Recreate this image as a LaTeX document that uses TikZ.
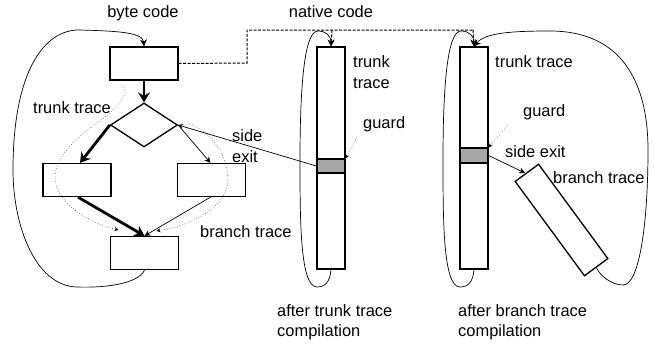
\documentclass[tikz,border=0pt]{standalone}
\usepackage{fontspec}
\setmainfont{Liberation Sans}
\usetikzlibrary{shapes.geometric,arrows.meta}
\begin{document}
\begin{tikzpicture}[x=1bp,y=-1bp,
  every node/.style={font=\fontsize{16.5}{20.5}\selectfont},
  blk/.style={draw,line width=1.3bp,minimum width=68bp,minimum height=33bp,inner sep=0pt},
  bar/.style={draw,line width=1.3bp,minimum width=28bp,minimum height=222bp,inner sep=0pt},
  grd/.style={draw,line width=1.3bp,fill=gray!85!black!60,minimum width=28bp,inner sep=0pt},
  lbl/.style={anchor=west,inner sep=0pt,align=left},
  thick arr/.style={line width=2.8bp,-{Stealth[length=10bp,width=12bp,inset=3.5bp]}},
  thin arr/.style={line width=0.7bp,-{Stealth[length=6bp,width=6bp,inset=2bp]}},
  loop/.style={line width=0.7bp,-{Stealth[length=7bp,width=7bp,inset=2.5bp]}},
  dots/.style={line width=0.6bp,dotted,gray!60!black,-{Stealth[length=4bp,width=4bp,black]}},
  dsh/.style={line width=1bp,dash pattern=on 3bp off 1.5bp}
]
\useasboundingbox (0,0) rectangle (654,347);
% left: byte code
\node (bc) at (143,13) {byte code};
\node[blk] (T) at (144,63.5) {};
\node[draw,diamond,line width=1.3bp,minimum width=67bp,minimum height=44bp,inner sep=0pt] (D) at (144,125) {};
\node[blk] (L) at (77,180) {};
\node[blk] (R) at (211.5,180) {};
\node[blk] (B) at (144.5,253) {};
\draw[thick arr] (T.south) -- (D.north);
\draw[thick arr] (D.west) -- ([xshift=3bp]L.north);
\draw[thin arr] (D.east) -- ([xshift=-1bp]R.north);
\draw[thick arr] ([xshift=1bp]L.south) -- (B.north);
\draw[thin arr] ([xshift=-1bp]R.south) -- (B.north);
\draw[loop] (B.south) .. controls (138,284) and (105,288) .. (77,287)
  .. controls (35,286) and (13,225) .. (13,170)
  .. controls (13,70) and (45,29) .. (80,30)
  .. controls (115,31) and (143,32) .. (T.north);
\coordinate (tt0) at (122,86);
\draw[dots] (tt0) .. controls (130,90) and (122,103) .. (105,117)
  .. controls (80,135) and (55,155) .. (55,177)
  .. controls (55,205) and (95,225) .. ([xshift=-26bp,yshift=6bp]B.north);
\coordinate (bt0) at (187,123);
\draw[dots] (bt0) .. controls (205,128) and (228,150) .. (228,180)
  .. controls (228,205) and (195,225) .. ([xshift=12bp,yshift=5bp]B.north);
\node[lbl] (ltt) at (33,108) {trunk trace};
\node[lbl] (lse) at (232,146) {side\\exit};
\node[lbl] (lbt) at (200,232) {branch trace};
% middle: after trunk trace compilation
\node (nc) at (331,12) {native code};
\node[bar] (M) at (331,158) {};
\node[grd,minimum height=14bp] (G1) at (331,166) {};
\node[lbl] (ltt2) at (353,72) {trunk\\trace};
\node[lbl] (lg1) at (363,124) {guard};
\node[lbl] (lat) at (277,322.5) {after trunk trace\\compilation};
\coordinate (g1p) at (357,137);
\draw[dots] (g1p) -- (G1.north east);
\draw[line width=0.7bp,-{Stealth[length=5bp,width=5bp,inset=2bp]}] (G1.west) -- (D.east);
\draw[loop] (M.south) .. controls (330,282) and (325,287) .. (317,287)
  .. controls (300,287) and (300,220) .. (300,160)
  .. controls (300,80) and (305,31) .. (318,31)
  .. controls (326,31) and (331,36) .. (M.north);
% right: after branch trace compilation
\node[bar] (N) at (474,158) {};
\node[grd,minimum height=15bp] (G2) at (474,155.5) {};
\node[lbl] (ltt3) at (495,62) {trunk trace};
\node[lbl] (lg2) at (523,112) {guard};
\node[lbl] (lse2) at (505,152) {side exit};
\node[draw,line width=1.3bp,minimum width=117bp,minimum height=29bp,inner sep=0pt,rotate=-53.7] (BR) at (561.5,220) {};
\node[lbl] (lbt2) at (553,178) {branch trace};
\node[lbl] (lab) at (458,322.5) {after branch trace\\compilation};
\coordinate (g2p) at (508,125);
\draw[dots] (g2p) -- (G2.north east);
\draw[thin arr] (G2.east) -- (525,173);
\draw[loop] (N.south) .. controls (473,282) and (468,287) .. (460,287)
  .. controls (443,287) and (443,220) .. (443,160)
  .. controls (443,80) and (448,31) .. (461,31)
  .. controls (469,31) and (474,36) .. (N.north);
\draw[loop] (BR.east) .. controls (600,276) and (612,285) .. (623,285)
  .. controls (640,285) and (648,220) .. (648,150)
  .. controls (648,80) and (620,31) .. (550,31)
  .. controls (510,31) and (485,33) .. (N.north);
% dashed connection
\coordinate (c1) at (247,63);
\coordinate (c2) at (247,30);
\coordinate (c3) at (473,30);
\coordinate (c4) at (332,30);
\draw[dsh] (T.east) -- (c1) -- (c2) -- (c3);
\draw[dsh,-{Stealth[length=6bp,width=6bp,inset=2bp]}] (c4) -- (M.north);
\draw[dsh,-{Stealth[length=6bp,width=6bp,inset=2bp]}] (c3) -- (N.north);
\end{tikzpicture}
\end{document}
